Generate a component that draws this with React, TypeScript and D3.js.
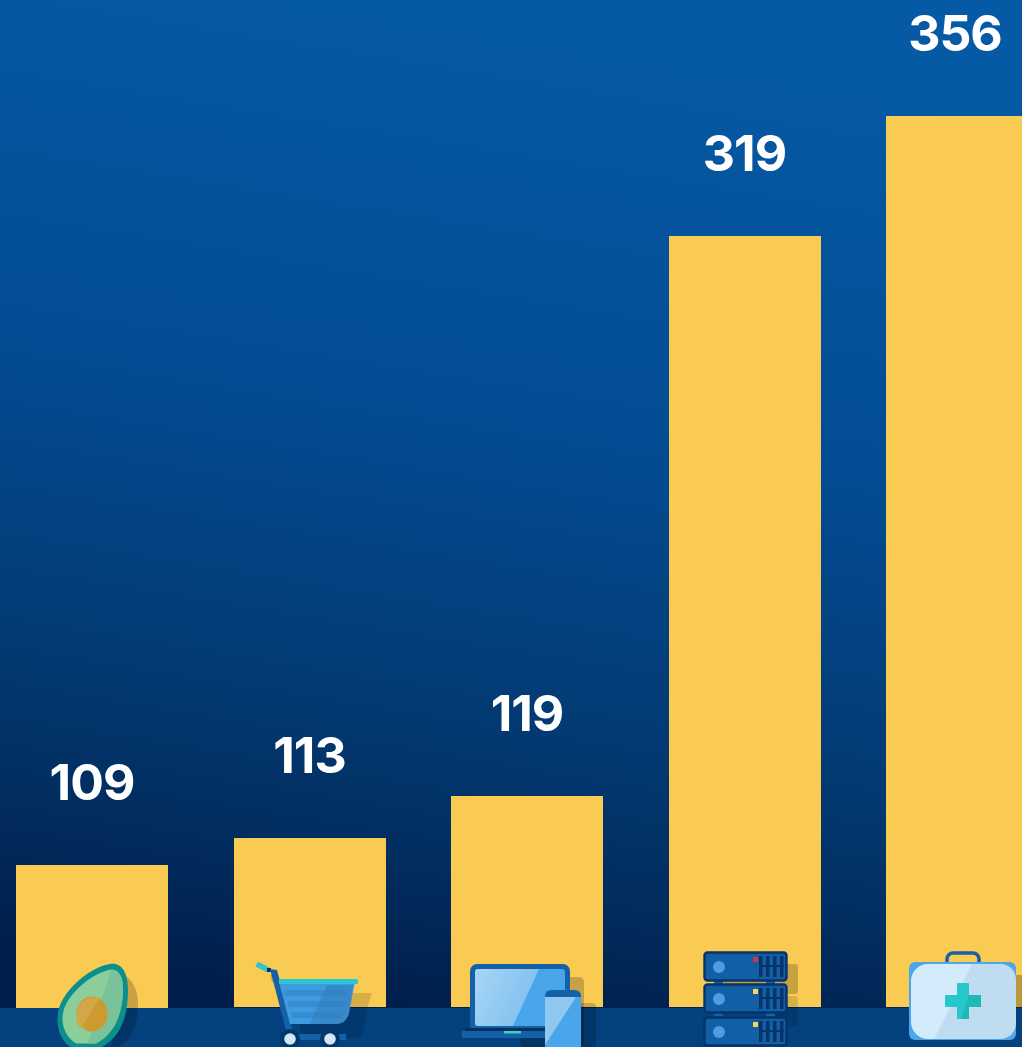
import React from "react";
import * as d3 from "d3";

const categories = ["Food", "Retail", "Electronics", "Technology", "Healthcare"];
const values = [109, 113, 119, 319, 356];
const barBottoms = [1008, 1007, 1007, 1007, 1007];

const W = 1022, H = 1047, FOOT = 1008;

// The source bars are not to a single linear scale, so the scale is piecewise.
const y = d3.scaleLinear().domain([109, 113, 119, 319, 356]).range([865, 838, 796, 236, 116]);
const x = d3.scaleBand<string>().domain(categories).range([16, 1038]).paddingInner(0.3012).paddingOuter(0);

function Avocado() {
  return (
    <g>
      <path d="M112 974 C128 972 138 984 138 1005 C138 1030 128 1047 112 1047 Z" fill="#000" opacity="0.2" />
      <path d="M110 964 C122 962 128 973 128 990 C128 1018 120 1038 100 1048 L72 1048 C59 1040 55 1025 59 1008 C65 989 90 967 110 964Z" fill="#0b8e8c" />
      <path d="M111 969.5 C120 969 123.5 979 123 991 C122 1016 114 1034 96 1043.5 L76 1043.5 C64 1036 60 1022 64 1009 C70 992 92 973 111 969.5Z" fill="#8bcd9b" />
      <path d="M111 969.5 C120 969 123.5 979 123 991 C122 1016 114 1034 96 1043.5 L88 1043.5 Z" fill="#76c09a" opacity="0.8" />
      <ellipse cx="92" cy="1014" rx="15.5" ry="17.5" fill="#cc9a2e" />
      <path d="M100 998.5 L81 1028 C75 1024 76.5 1015 76.5 1012 C78 1003 88 994 100 998.5Z" fill="#d3a748" />
    </g>
  );
}

function Cart() {
  return (
    <g>
      <path d="M270 975 L278 975 L280 982 L272 982 Z" fill="#000" opacity="0.18" />
      <path d="M300 993 L372 993 L368 1006 L362 1037 L300 1040 Z" fill="#000" opacity="0.14" />
      <rect x="256" y="964.5" width="13" height="5.5" rx="1" fill="#2dc6d0" transform="rotate(26 263 967)" />
      <rect x="267" y="968" width="4" height="4" fill="#06305f" />
      <path d="M270 969 L277 970 L293 1032 L287 1034 Z" fill="#1561a8" />
      <path d="M279 982 L355 982 L349 1013 Q346 1024 336 1024 L290 1024 Z" fill="#3f9ae0" />
      <path d="M327 985 L353 985 L349 1013 Q346 1024 336 1024 L310 1024 Z" fill="#2f76b0" opacity="0.45" />
      <rect x="279" y="979" width="79" height="5" rx="1" fill="#2cc8d2" />
      <rect x="284" y="990" width="64" height="6" rx="2" fill="#2f7fc0" opacity="0.45" />
      <rect x="288" y="1001" width="58" height="6" rx="2" fill="#2f7fc0" opacity="0.45" />
      <rect x="291" y="1012" width="52" height="6" rx="2" fill="#2f7fc0" opacity="0.45" />
      <rect x="290" y="1034" width="56" height="6" fill="#1561a8" />
      <circle cx="290" cy="1039" r="10" fill="#04366b" />
      <circle cx="330" cy="1039" r="10" fill="#04366b" />
      <circle cx="290" cy="1039" r="5.8" fill="#cfe6f6" />
      <circle cx="330" cy="1039" r="5.8" fill="#cfe6f6" />
    </g>
  );
}

function Devices() {
  return (
    <g>
      <rect x="520" y="977" width="64" height="70" rx="5" fill="#000" opacity="0.2" />
      <rect x="570" y="1003" width="26" height="44" rx="4" fill="#000" opacity="0.18" />
      <rect x="470" y="964" width="100" height="68" rx="7" fill="#1561a8" />
      <rect x="475" y="969" width="90" height="57" rx="3" fill="#49a5ea" />
      <path d="M478 969 L539 969 L513 1026 L478 1026 Q475 1026 475 1023 L475 972 Q475 969 478 969Z" fill="url(#screen)" />
      <rect x="462" y="1031" width="92" height="7" fill="#1561a8" />
      <rect x="465" y="1028" width="86" height="3" fill="#03315f" />
      <rect x="504" y="1031" width="17" height="2.5" fill="#45cdc0" />
      <rect x="545" y="995" width="36" height="52" fill="#4aa6ea" />
      <path d="M545 997 L576 997 L545 1045 Z" fill="#8fc8f1" />
      <path d="M545 997 V996 Q545 990 552 990 L574 990 Q581 990 581 996 V997 Z" fill="#1561a8" />
    </g>
  );
}

function Servers() {
  const tops = [952, 984, 1017];
  const dots = ["#d8343f", "#fbd35c", "#fbd35c"];
  return (
    <g>
      <rect x="770" y="964" width="28" height="30" rx="3" fill="#000" opacity="0.2" />
      <rect x="770" y="996" width="28" height="30" rx="3" fill="#000" opacity="0.13" />
      <rect x="723" y="981" width="44" height="4" fill="#c49a3e" />
      {tops.map((t, i) => (
        <g key={t}>
          <rect x="714" y={t + 28} width="9" height="6" fill="#1561a8" />
          <rect x="766" y={t + 28} width="9" height="6" fill="#1561a8" />
          <rect x="704.5" y={t + 0.5} width="82" height="28" rx="3" fill="#135fa5" stroke="#06346a" strokeWidth="2.4" />
          <circle cx="719" cy={t + 15} r="6" fill="#4a9ee0" />
          <rect x="753" y={t + 5} width="5" height="5" fill={dots[i]} />
          {[759, 766, 773, 780].map((bx) => (
            <rect key={bx} x={bx} y={t + 4} width="3.5" height="21" fill="#06346a" />
          ))}
          <rect x="759" y={t + 13} width="25" height="2" fill="#06346a" />
        </g>
      ))}
    </g>
  );
}

function Kit() {
  return (
    <g>
      <rect x="1010" y="975" width="12" height="32" fill="#000" opacity="0.25" />
      <rect x="947" y="953" width="32" height="20" rx="6" fill="none" stroke="#1561a8" strokeWidth="3.5" />
      <rect x="909" y="962" width="107" height="78" rx="6" fill="#4ba7ea" />
      <rect x="911" y="964" width="105" height="75" rx="17" fill="#d3ebfb" />
      <path d="M972 964 L999 964 Q1016 964 1016 981 L1016 1022 Q1016 1039 999 1039 L934 1039 Z" fill="#b8d7ec" opacity="0.75" />
      <rect x="957" y="983" width="12" height="36" rx="1" fill="#27c7cc" />
      <rect x="945" y="995" width="36" height="12" rx="1" fill="#27c7cc" />
      <path d="M969 995 L981 995 L981 1007 L969 1007 L969 1019 L961 1019 Z" fill="#1fb9ba" />
    </g>
  );
}

export default function App() {
  return (
    <svg width={W} height={H} viewBox={`0 0 ${W} ${H}`} style={{ position: "absolute", left: 0, top: 0, display: "block" }}>
      <defs>
        <linearGradient id="bg" x1="0.58" y1="0" x2="0.42" y2="1">
          <stop offset="0" stopColor="#065aa5" />
          <stop offset="0.4" stopColor="#024c93" />
          <stop offset="0.68" stopColor="#033a74" />
          <stop offset="0.85" stopColor="#012b5c" />
          <stop offset="0.96" stopColor="#001f4c" />
        </linearGradient>
        <linearGradient id="screen" x1="0" y1="0" x2="1" y2="0.4">
          <stop offset="0" stopColor="#a9d5f4" />
          <stop offset="1" stopColor="#7fc0ef" />
        </linearGradient>
      </defs>
      <rect width={W} height={H} fill="url(#bg)" />
      {categories.map((c, i) => (
        <rect key={c} x={Math.round(x(c)!)} y={y(values[i])} width={x.bandwidth()} height={barBottoms[i] - y(values[i])} fill="#facb53" />
      ))}
      <rect y={FOOT} width={W} height={H - FOOT} fill="#03427f" />
      {categories.map((c, i) => (
        <text
          key={c}
          x={Math.min(x(c)! + x.bandwidth() / 2, 955)}
          y={y(values[i]) - 65}
          textAnchor="middle"
          fill="#fff"
          fontFamily="Inter, sans-serif"
          fontWeight={700}
          fontSize={50}
          letterSpacing={-1}
        >
          {values[i]}
        </text>
      ))}
      <Avocado />
      <Cart />
      <Devices />
      <Servers />
      <Kit />
    </svg>
  );
}
